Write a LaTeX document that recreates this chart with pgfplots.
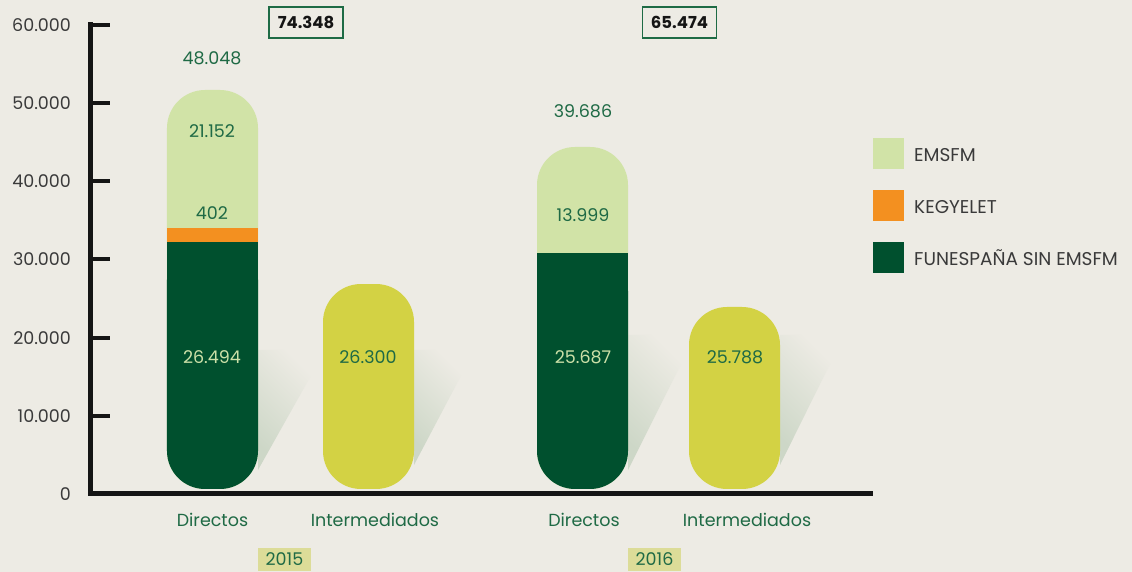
\documentclass[border=0pt]{standalone}
\usepackage{pgfplots}
\pgfplotsset{compat=1.18}
\usepackage{fontspec}
\setmainfont{Poppins}

\definecolor{bg}{HTML}{EDEBE4}
\definecolor{darkg}{HTML}{00502E}
\definecolor{lightg}{HTML}{D1E3A7}
\definecolor{orangeb}{HTML}{F39020}
\definecolor{yellowb}{HTML}{D3D244}
\definecolor{textg}{HTML}{1F6A45}
\definecolor{lighttxt}{HTML}{CCE0A8}
\definecolor{boxg}{HTML}{1E6B45}
\definecolor{yearfill}{HTML}{DCDC98}
\definecolor{greytxt}{HTML}{3A3A3A}
\definecolor{axiscol}{HTML}{151515}
\definecolor{shadowc}{HTML}{CDD7C7}

\begin{document}
\begin{tikzpicture}[font=\fontsize{17.5}{20}\selectfont]
\fill[bg] (-90.5pt,-78pt) rectangle (1041.5pt,494pt);
\begin{axis}[
    at={(0pt,0pt)}, anchor=south west,
    scale only axis, width=779.5pt, height=469pt,
    xmin=90.5, xmax=870, ymin=0, ymax=60000,
    clip=false,
    axis lines=left,
    axis line style={-, line width=5pt, color=axiscol, line cap=rect},
    xtick=\empty,
    ytick={0,10000,20000,30000,40000,50000,60000},
    yticklabels={0,10.000,20.000,30.000,40.000,50.000,60.000},
    scaled y ticks=false,
    tick align=inside, major tick length=19.5pt,
    ytick style={line width=4pt, color=axiscol},
    yticklabel style={text=greytxt, xshift=-16pt, font=\fontsize{17.5}{20}\selectfont},
    axis on top,
]

% shadows
\addplot[draw=none, bottom color=shadowc, top color=bg, shading angle=-45] coordinates {(258,3070) (313,15607) (292,18422) (258,18422)} -- cycle;
\addplot[draw=none, bottom color=shadowc, top color=bg, shading angle=-45] coordinates {(414,3710) (463,15607) (442,18422) (414,18422)} -- cycle;
\addplot[draw=none, bottom color=shadowc, top color=bg, shading angle=-45] coordinates {(628,3070) (683,17143) (660,20341) (628,20341)} -- cycle;
\addplot[draw=none, bottom color=shadowc, top color=bg, shading angle=-45] coordinates {(780,3710) (832,17143) (810,20341) (780,20341)} -- cycle;

% 2015 Directos
\addplot[draw=none, fill=lightg, rounded corners=38pt] coordinates {(167,640) (167,51684) (258,51684) (258,640)} -- cycle;
\addplot[draw=none, fill=darkg, rounded corners=38pt] coordinates {(167,640) (167,32277) (258,32277) (258,640)} -- cycle;
\addplot[draw=none, fill=darkg] coordinates {(167,20000) (167,32277) (258,32277) (258,20000)} -- cycle;
\addplot[draw=none, fill=orangeb] coordinates {(167,32277) (167,34030) (258,34030) (258,32277)} -- cycle;
% 2015 Intermediados
\addplot[draw=none, fill=yellowb, rounded corners=38pt] coordinates {(323,640) (323,26865) (414,26865) (414,640)} -- cycle;
% 2016 Directos
\addplot[draw=none, fill=lightg, rounded corners=38pt] coordinates {(537,640) (537,44392) (628,44392) (628,640)} -- cycle;
\addplot[draw=none, fill=darkg, rounded corners=38pt] coordinates {(537,640) (537,30831) (628,30831) (628,640)} -- cycle;
\addplot[draw=none, fill=darkg] coordinates {(537,20000) (537,30831) (628,30831) (628,20000)} -- cycle;
% 2016 Intermediados
\addplot[draw=none, fill=yellowb, rounded corners=38pt] coordinates {(689,640) (689,23923) (780,23923) (780,640)} -- cycle;

% legend squares
\addplot[draw=none, fill=lightg] coordinates {(873,41577) (873,45543) (904,45543) (904,41577)} -- cycle;
\addplot[draw=none, fill=orangeb] coordinates {(873,34925) (873,38891) (904,38891) (904,34925)} -- cycle;
\addplot[draw=none, fill=darkg] coordinates {(873,28273) (873,32238) (904,32238) (904,28273)} -- cycle;
\node[anchor=base west, inner sep=0pt, text=greytxt, font=\fontsize{18.5}{21}\selectfont] at (axis cs:914,42473) {EMSFM};
\node[anchor=base west, inner sep=0pt, text=greytxt, font=\fontsize{18.5}{21}\selectfont] at (axis cs:914,35948) {KEGYELET};
\node[anchor=base west, inner sep=0pt, text=greytxt, font=\fontsize{18.5}{21}\selectfont] at (axis cs:914,29296) {FUNESPAÑA SIN EMSFM};

% value labels
\node[text=textg] at (axis cs:212,55777) {48.048};
\node[text=textg] at (axis cs:212,46439) {21.152};
\node[text=textg] at (axis cs:212,35948) {402};
\node[text=lighttxt] at (axis cs:212,17527) {26.494};
\node[text=textg] at (axis cs:368,17527) {26.300};
\node[text=textg] at (axis cs:583,48997) {39.686};
\node[text=textg] at (axis cs:583,35692) {13.999};
\node[text=lighttxt] at (axis cs:583,17527) {25.687};
\node[text=textg] at (axis cs:735,17527) {25.788};

% totals
\node[draw=boxg, fill=bg, line width=1.6pt, minimum width=74pt, minimum height=31pt, inner sep=0pt, text=axiscol, font=\fontsize{16.5}{19}\selectfont\bfseries] at (axis cs:306,60319) {74.348};
\node[draw=boxg, fill=bg, line width=1.6pt, minimum width=74pt, minimum height=31pt, inner sep=0pt, text=axiscol, font=\fontsize{16.5}{19}\selectfont\bfseries] at (axis cs:679.5,60319) {65.474};

% category labels
\node[text=textg] at (axis cs:212.5,-3326) {Directos};
\node[text=textg] at (axis cs:375,-3326) {Intermediados};
\node[text=textg] at (axis cs:584,-3326) {Directos};
\node[text=textg] at (axis cs:747,-3326) {Intermediados};
\node[fill=yearfill, minimum width=53pt, minimum height=23pt, inner sep=0pt, text=textg] at (axis cs:284.5,-8379) {2015};
\node[fill=yearfill, minimum width=53pt, minimum height=23pt, inner sep=0pt, text=textg] at (axis cs:654.5,-8379) {2016};
\end{axis}
\pgfresetboundingbox
\path (-90.5pt,-78pt) rectangle (1041.5pt,494pt);
\end{tikzpicture}
\end{document}
